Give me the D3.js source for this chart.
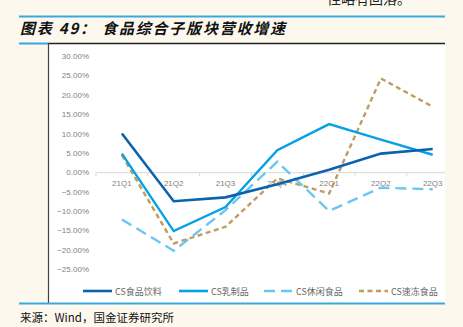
<!DOCTYPE html>
<html><head><meta charset="utf-8">
<script src="https://cdn.jsdelivr.net/npm/d3@7"></script>
<style>
html,body{margin:0;padding:0;background:#fcf8ee;}
svg{display:block;}
</style></head>
<body>
<script>
const categories = ["21Q1","21Q2","21Q3","21Q4","22Q1","22Q2","22Q3"];
const seriesNames = ["CS食品饮料","CS乳制品","CS休闲食品","CS速冻食品"];
const food = [10.0, -7.5, -6.5, -3.1, 0.6, 4.8, 6.0];
const dairy = [4.8, -15.2, -9.0, 5.7, 12.4, 8.4, 4.5];
const snack = [-12.2, -20.3, -9.8, 2.7, -10.0, -4.0, -4.4];
const frozen = [4.4, -18.4, -14.1, -1.6, -5.5, 24.2, 16.9];
const yTicks = [30, 25, 20, 15, 10, 5, 0, -5, -10, -15, -20, -25];

const W = 463, H = 327;
const svg = d3.select("body").append("svg").attr("width", W).attr("height", H);

// top cut-off text
svg.append("text").attr("x", 327).attr("y", 4).attr("font-family", "Noto Sans CJK SC")
  .attr("font-size", 14).attr("fill", "#222").text("性略有回落。");

// decorative rules
svg.append("line").attr("x1", 19).attr("x2", 445).attr("y1", 16.5).attr("y2", 16.5).attr("stroke", "#3aa8e0").attr("stroke-width", 2);
svg.append("text").attr("x", 20).attr("y", 34).attr("font-family", "Noto Sans CJK SC")
  .attr("font-size", 15).attr("font-style", "italic").attr("font-weight", "bold").attr("letter-spacing", 1.8)
  .attr("fill", "#111").text("图表 49： 食品综合子版块营收增速");
svg.append("line").attr("x1", 19).attr("x2", 48).attr("y1", 43.5).attr("y2", 43.5).attr("stroke", "#3aa8e0").attr("stroke-width", 2);

// plot box
svg.append("rect").attr("x", 48).attr("y", 43).attr("width", 397).attr("height", 260).attr("fill", "#fff");
svg.append("line").attr("x1", 48).attr("x2", 445).attr("y1", 43.5).attr("y2", 43.5).attr("stroke", "#222").attr("stroke-width", 1.5);
svg.append("line").attr("x1", 48.5).attr("x2", 48.5).attr("y1", 43).attr("y2", 303).attr("stroke", "#444").attr("stroke-width", 1.2);
svg.append("line").attr("x1", 19).attr("x2", 445).attr("y1", 303.5).attr("y2", 303.5).attr("stroke", "#3aa8e0").attr("stroke-width", 2);

svg.append("text").attr("x", 20).attr("y", 322).attr("font-family", "Noto Sans CJK SC")
  .attr("font-size", 11.5).attr("fill", "#111").text("来源：Wind，国金证券研究所");

svg.append("clipPath").attr("id", "clip").append("rect").attr("x", 49).attr("y", 44).attr("width", 396).attr("height", 258);

const x = d3.scaleBand().domain(categories).range([96, 96 + 7 * 51.8]);
const y = d3.scaleLinear().domain([-25, 30]).range([269, 56]);

const g = svg.append("g").attr("clip-path", "url(#clip)");

// y labels
const yAxis = d3.axisLeft(y).tickValues(yTicks).tickSize(0).tickPadding(0)
  .tickFormat(d => d3.format(".2f")(d) + "%");
const ya = svg.append("g").attr("transform", "translate(89,0)").call(yAxis);
ya.select(".domain").remove();
ya.selectAll("text").attr("font-family", "Liberation Sans, Arial").attr("font-size", 8).attr("fill", "#7f7f7f");

// zero line with ticks
const xa = g.append("g").attr("transform", `translate(0,${y(0)})`)
  .call(d3.axisBottom(x).tickSize(0).tickPadding(0).tickFormat(""));
xa.select(".domain").attr("stroke", "#d9d9d9").attr("stroke-width", 1);
const bounds = categories.map(c => x(c)).concat([x(categories[categories.length - 1]) + x.bandwidth()]);
g.selectAll(".bt").data(bounds).enter().append("line")
  .attr("x1", d => d).attr("x2", d => d).attr("y1", y(0)).attr("y2", y(0) + 4)
  .attr("stroke", "#d9d9d9");
g.selectAll(".xl").data(categories).enter().append("text")
  .attr("x", d => x(d) + x.bandwidth() / 2).attr("y", y(0) + 14)
  .attr("text-anchor", "middle").attr("font-family", "Liberation Sans, Arial")
  .attr("font-size", 8).attr("fill", "#7f7f7f").text(d => d);

const series = [
  {name: seriesNames[0], values: food, color: "#0b63b0", dash: null, w: 2.6},
  {name: seriesNames[1], values: dairy, color: "#05a1e6", dash: null, w: 2.4},
  {name: seriesNames[2], values: snack, color: "#6cc6f2", dash: "11,6", w: 2.4},
  {name: seriesNames[3], values: frozen, color: "#c09c5e", dash: "5,3.5", w: 2.4}
];
const line = d3.line().x((d, i) => x(categories[i]) + x.bandwidth() / 2).y(d => y(d));
[3, 2, 1, 0].forEach(k => {
  const s = series[k];
  g.append("path").datum(s.values).attr("d", line).attr("fill", "none")
    .attr("stroke", s.color).attr("stroke-width", s.w)
    .attr("stroke-dasharray", s.dash);
});

// legend
const legX = [83, 179, 264, 359];
series.forEach((s, i) => {
  svg.append("line").attr("x1", legX[i]).attr("x2", legX[i] + 29).attr("y1", 291).attr("y2", 291)
    .attr("stroke", s.color).attr("stroke-width", 2.6).attr("stroke-dasharray", s.dash);
  svg.append("text").attr("x", legX[i] + 32).attr("y", 294.5).attr("font-family", "Noto Sans CJK SC")
    .attr("font-size", 9).attr("fill", "#666").text(s.name);
});
</script>
</body></html>
